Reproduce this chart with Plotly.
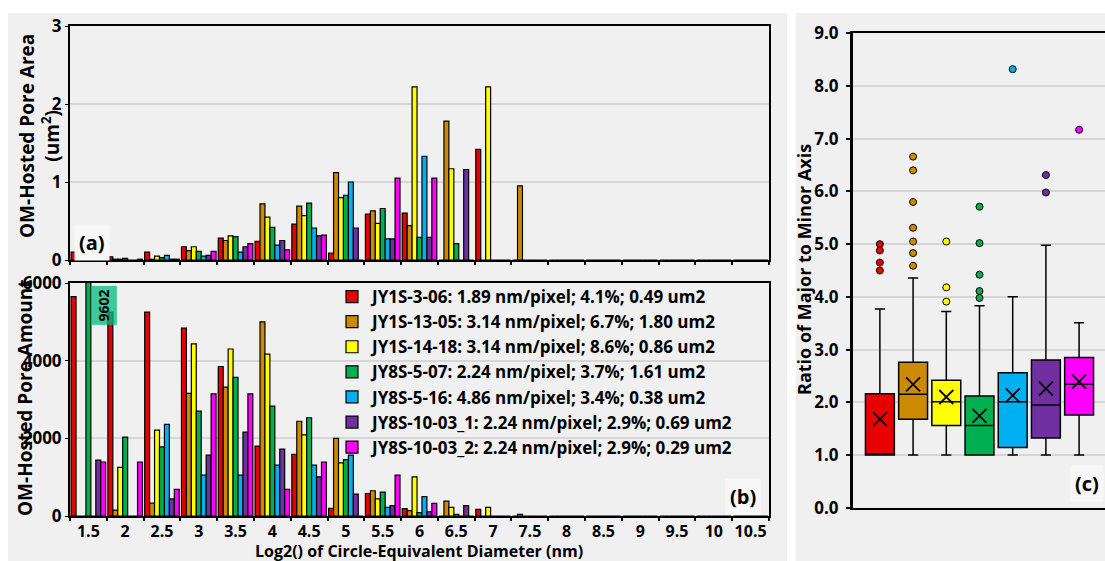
import plotly.graph_objects as go

# ---- data -------------------------------------------------------------
diameter_bins = ["1.5", "2", "2.5", "3", "3.5", "4", "4.5", "5", "5.5", "6",
                 "6.5", "7", "7.5", "8", "8.5", "9", "9.5", "10", "10.5"]

samples = ["JY1S-3-06", "JY1S-13-05", "JY1S-14-18", "JY8S-5-07",
           "JY8S-5-16", "JY8S-10-03_1", "JY8S-10-03_2"]
resolution = ["1.89", "3.14", "3.14", "2.24", "4.86", "2.24", "2.24"]
porosity = ["4.1%", "6.7%", "8.6%", "3.7%", "3.4%", "2.9%", "2.9%"]
total_area = ["0.49", "1.80", "0.86", "1.61", "0.38", "0.69", "0.29"]
colors = ["#E80000", "#CC8A00", "#FFFF00", "#00B050", "#00B0F0", "#7030A0", "#FF00FF"]

# pore area (um2) per diameter bin
area_jy1s_3_06 = [0.10, 0.04, 0.10, 0.17, 0.28, 0.24, 0.46, 0.09, 0.59, 0.60, 0, 1.42, 0, 0, 0, 0, 0, 0, 0]
area_jy1s_13_05 = [0, 0.01, 0.01, 0.12, 0.25, 0.72, 0.69, 1.12, 0.63, 0.44, 1.78, 0, 0.95, 0, 0, 0, 0, 0, 0]
area_jy1s_14_18 = [0, 0.01, 0.05, 0.17, 0.31, 0.55, 0.57, 0.80, 0.47, 2.22, 1.17, 2.22, 0, 0, 0, 0, 0, 0, 0]
area_jy8s_5_07 = [0.04, 0.02, 0.03, 0.11, 0.30, 0.42, 0.73, 0.83, 0.66, 0.29, 0.21, 0, 0, 0, 0, 0, 0, 0, 0]
area_jy8s_5_16 = [0, 0, 0.06, 0.05, 0.10, 0.19, 0.41, 1.00, 0.27, 1.33, 0, 0, 0, 0, 0, 0, 0, 0, 0]
area_jy8s_10_03_1 = [0.01, 0, 0.01, 0.06, 0.17, 0.25, 0.31, 0.41, 0.27, 0.29, 1.16, 0, 0, 0, 0, 0, 0, 0, 0]
area_jy8s_10_03_2 = [0.01, 0.01, 0.01, 0.11, 0.21, 0.13, 0.32, 0, 1.05, 1.05, 0, 0, 0, 0, 0, 0, 0, 0, 0]

# pore counts per diameter bin
count_jy1s_3_06 = [5650, 5250, 5250, 4840, 3850, 1800, 1590, 200, 580, 190, 0, 170, 0, 0, 0, 0, 0, 0, 0]
count_jy1s_13_05 = [0, 150, 330, 3160, 3320, 5000, 2440, 2000, 650, 140, 385, 0, 40, 0, 0, 0, 0, 0, 0]
count_jy1s_14_18 = [0, 1250, 2210, 4430, 4300, 4170, 2090, 1370, 440, 1010, 220, 220, 0, 0, 0, 0, 0, 0, 0]
count_jy8s_5_07 = [9602, 2030, 1780, 2700, 3570, 2830, 2530, 1450, 615, 85, 45, 0, 0, 0, 0, 0, 0, 0, 0]
count_jy8s_5_16 = [0, 0, 2360, 1050, 1050, 1310, 1310, 1570, 220, 500, 0, 0, 0, 0, 0, 0, 0, 0, 0]
count_jy8s_10_03_1 = [1440, 0, 440, 1570, 2160, 1720, 1010, 565, 265, 110, 265, 0, 0, 0, 0, 0, 0, 0, 0]
count_jy8s_10_03_2 = [1390, 1390, 685, 3145, 3145, 685, 1390, 0, 1055, 325, 0, 0, 0, 0, 0, 0, 0, 0, 0]

area_series = [area_jy1s_3_06, area_jy1s_13_05, area_jy1s_14_18, area_jy8s_5_07,
               area_jy8s_5_16, area_jy8s_10_03_1, area_jy8s_10_03_2]
count_series = [count_jy1s_3_06, count_jy1s_13_05, count_jy1s_14_18, count_jy8s_5_07,
                count_jy8s_5_16, count_jy8s_10_03_1, count_jy8s_10_03_2]

# aspect ratio (major / minor axis) box statistics
ratio_q1 = [1.00, 1.68, 1.56, 1.00, 1.14, 1.32, 1.76]
ratio_median = [1.00, 2.15, 2.01, 1.56, 2.01, 1.95, 2.34]
ratio_q3 = [2.16, 2.76, 2.42, 2.12, 2.56, 2.80, 2.85]
ratio_lower = [1.00, 1.00, 1.00, 1.00, 1.00, 1.00, 1.00]
ratio_upper = [3.77, 4.36, 3.72, 3.83, 4.00, 4.98, 3.51]
ratio_mean = [1.68, 2.34, 2.10, 1.74, 2.13, 2.26, 2.39]
ratio_outliers = [
    [5.00, 4.88, 4.65, 4.50],
    [6.66, 6.40, 5.80, 5.31, 5.05, 4.83, 4.59],
    [5.05, 4.18, 3.91],
    [5.71, 5.02, 4.42, 4.11, 3.98],
    [8.32],
    [6.31, 5.98],
    [7.17],
]

# ---- layout helpers ---------------------------------------------------
W, H = 1105, 561
FONT = "'Open Sans', 'Noto Sans', sans-serif"


def px(x):
    return x / W


def py(y):
    return 1 - y / H


fig = go.Figure()

# bars: panel (a) area, panel (b) count
for i, name in enumerate(samples):
    label = f"{name}: {resolution[i]} nm/pixel; {porosity[i]}; {total_area[i]} um2"
    fig.add_trace(go.Bar(
        x=diameter_bins, y=area_series[i], name=label, legendgroup=name,
        showlegend=False, marker=dict(color=colors[i], line=dict(color="black", width=1.2)),
        xaxis="x", yaxis="y"))
    fig.add_trace(go.Bar(
        x=diameter_bins, y=count_series[i], name=label, legendgroup=name,
        showlegend=True, marker=dict(color=colors[i], line=dict(color="black", width=1.2)),
        xaxis="x2", yaxis="y2"))

# panel (c) boxes
for i, name in enumerate(samples):
    fig.add_trace(go.Box(
        x=[name], q1=[ratio_q1[i]], median=[ratio_median[i]], q3=[ratio_q3[i]],
        lowerfence=[ratio_lower[i]], upperfence=[ratio_upper[i]],
        fillcolor=colors[i], line=dict(color="black", width=1.5),
        width=0.87, whiskerwidth=0.35, showlegend=False, boxpoints=False,
        xaxis="x3", yaxis="y3"))
    fig.add_trace(go.Scatter(
        x=[name] * len(ratio_outliers[i]), y=ratio_outliers[i], mode="markers",
        marker=dict(symbol="circle", size=7, color=colors[i], line=dict(color="black", width=1)),
        showlegend=False, xaxis="x3", yaxis="y3"))

fig.add_trace(go.Scatter(
    x=samples, y=ratio_mean, mode="markers",
    marker=dict(symbol="x-thin", size=14, line=dict(color="black", width=1.8)),
    showlegend=False, xaxis="x3", yaxis="y3"))

tickfont = dict(family=FONT, size=17, color="black", weight="bold")
xtickfont = dict(family=FONT, size=16, color="black", weight="bold")
grid = "#D6D6D6"

common_x = dict(type="category", categoryorder="array", categoryarray=diameter_bins,
                range=[-0.5, len(diameter_bins) - 0.5], tickson="boundaries",
                ticks="outside", ticklen=3, tickwidth=1.5, tickcolor="black",
                tickangle=0, automargin=False,
                showline=True, linecolor="black", linewidth=2, mirror=True,
                showgrid=False, tickfont=xtickfont)

fig.update_layout(
    width=W, height=H,
    margin=dict(l=0, r=0, t=0, b=0, autoexpand=False),
    paper_bgcolor="white",
    plot_bgcolor="#F0F0F0",
    font=dict(family=FONT, color="black", weight="bold"),
    barmode="group", bargap=0.06, bargroupgap=0,
    boxmode="overlay",
    xaxis=dict(domain=[px(70), px(769)], anchor="y", showticklabels=False, **common_x),
    yaxis=dict(domain=[py(260), py(26)], anchor="x", range=[0, 3], dtick=1,
               showline=True, linecolor="black", linewidth=2, mirror=True,
               ticks="outside", ticklen=3, tickcolor="black", automargin=False,
               gridcolor=grid, gridwidth=1.5, tickfont=tickfont, zeroline=False),
    xaxis2=dict(domain=[px(70), px(769)], anchor="y2", showticklabels=True, **common_x),
    yaxis2=dict(domain=[py(516), py(283)], anchor="x2", range=[0, 6000],
                tickvals=[0, 2000, 4000, 6000],
                showline=True, linecolor="black", linewidth=2, mirror=True,
                ticks="outside", ticklen=3, tickcolor="black", automargin=False,
                gridcolor=grid, gridwidth=1.5, tickfont=tickfont, zeroline=False),
    xaxis3=dict(domain=[px(853), 1.0], anchor="y3", type="category",
                categoryorder="array", categoryarray=samples, range=[-0.81, 6.78],
                showticklabels=False, ticks="", showline=True, linecolor="black",
                linewidth=2, mirror=True, showgrid=False, automargin=False),
    yaxis3=dict(domain=[py(507.7), py(33.3)], anchor="x3", range=[0, 9], dtick=1,
                tickformat=".1f", showline=True, linecolor="black", linewidth=3,
                ticks="outside", ticklen=4, tickcolor="black", tickwidth=1.5,
                ticklabelstandoff=4, automargin=False,
                gridcolor=grid, gridwidth=1.5, tickfont=tickfont, zeroline=False),
    legend=dict(x=px(332), y=py(279), xanchor="left", yanchor="top",
                bgcolor="rgba(0,0,0,0)", borderwidth=0,
                font=dict(family=FONT, size=17, color="black", weight="bold"),
                tracegroupgap=0, itemclick=False),
    showlegend=True,
)

# panel backgrounds
fig.add_shape(type="rect", xref="paper", yref="paper", x0=px(8), x1=px(787), y0=0, y1=py(13),
              fillcolor="#F0F0F0", line_width=0, layer="below")
fig.add_shape(type="rect", xref="paper", yref="paper", x0=px(796), x1=1, y0=0, y1=py(13),
              fillcolor="#F0F0F0", line_width=0, layer="below")

annotations = [
    dict(x=px(39), y=py(136), text="OM-Hosted Pore Area<br>(um<sup>2</sup>)", textangle=-90, size=19),
    dict(x=px(25), y=py(398), text="OM-Hosted Pore Amount", textangle=-90, size=19),
    dict(x=px(419), y=py(550.5), text="Log2() of Circle-Equivalent Diameter (nm)", textangle=0, size=16),
    dict(x=px(804), y=py(270), text="Ratio of Major to Minor Axis", textangle=-90, size=18),
]
for a in annotations:
    size = a.pop("size")
    fig.add_annotation(xref="paper", yref="paper", showarrow=False,
                       font=dict(family=FONT, size=size, color="black", weight="bold"),
                       xanchor="center", yanchor="middle", **a)

# panel tags
for tag, cx, cy in [("(a)", 92, 243), ("(b)", 743, 496), ("(c)", 1087, 483)]:
    fig.add_annotation(xref="paper", yref="paper", x=px(cx), y=py(cy), text=tag,
                       xanchor="center", yanchor="middle",
                       showarrow=False, bgcolor="#F7F7F7", borderpad=4,
                       font=dict(family=FONT, size=20, color="black", weight="bold"))

# value label for the clipped bar in panel (b), placed beside the first bin
clipped = count_jy8s_5_07[0]
fig.add_annotation(xref="x2", yref="y2", x=0, y=6000, xshift=15, yshift=-2,
                   yanchor="top", text=str(clipped), textangle=-90, showarrow=False,
                   bgcolor="rgba(0,190,130,0.75)", borderpad=3,
                   font=dict(family=FONT, size=14, color="black", weight="bold"))

fig.write_html("out.html")
